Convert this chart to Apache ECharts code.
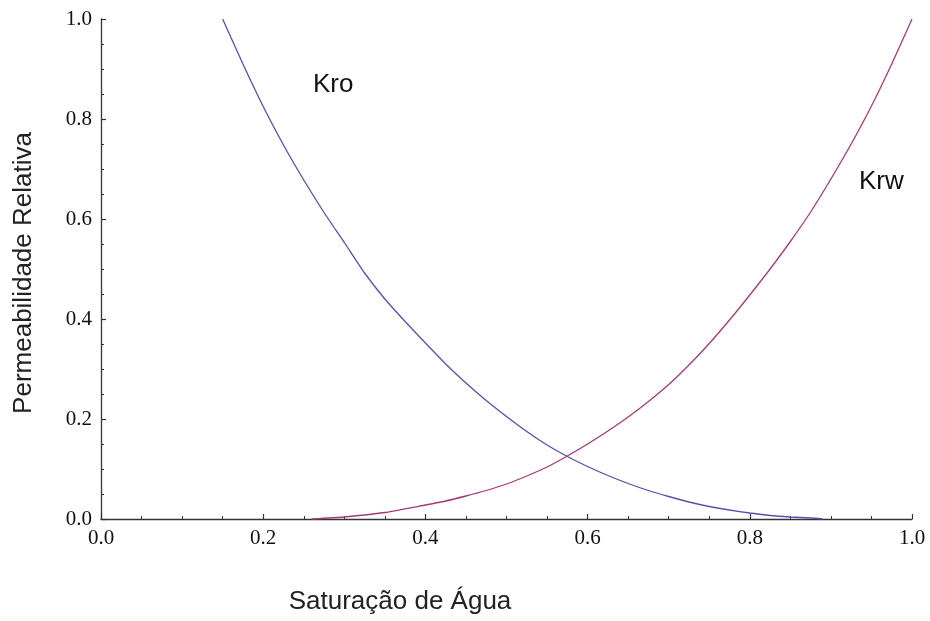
<!DOCTYPE html>
<html>
<head>
<meta charset="utf-8">
<script src="https://cdn.jsdelivr.net/npm/echarts@6/dist/echarts.min.js"></script>
<style>
  html, body { margin: 0; padding: 0; background: #fff; }
  #chart { width: 930px; height: 621px; }
</style>
</head>
<body>
<div id="chart"></div>
<script>
// Água saturation (Sw) samples and relative permeabilities
const swOil = [0.15, 0.175, 0.2, 0.225, 0.25, 0.275, 0.3, 0.325, 0.35, 0.375, 0.4, 0.425, 0.45, 0.475, 0.5,
               0.525, 0.55, 0.575, 0.6, 0.625, 0.65, 0.675, 0.7, 0.725, 0.75, 0.775, 0.8, 0.825, 0.85, 0.875, 0.89];
const kro   = [1.0, 0.91, 0.825, 0.748, 0.678, 0.613, 0.553, 0.492, 0.44, 0.395, 0.352, 0.31, 0.272, 0.237, 0.205,
               0.175, 0.148, 0.125, 0.105, 0.087, 0.071, 0.057, 0.045, 0.034, 0.025, 0.018, 0.012, 0.007, 0.004, 0.002, 0.0];

const swWater = [0.26, 0.3, 0.35, 0.4, 0.425, 0.45, 0.475, 0.5, 0.525, 0.55, 0.575, 0.6, 0.625, 0.65, 0.675, 0.7,
                 0.725, 0.75, 0.775, 0.8, 0.825, 0.85, 0.875, 0.9, 0.925, 0.95, 0.975, 1.0];
const krw     = [0.0, 0.004, 0.013, 0.028, 0.036, 0.046, 0.057, 0.07, 0.086, 0.104, 0.126, 0.15, 0.176, 0.204, 0.235, 0.269,
                 0.308, 0.351, 0.398, 0.448, 0.5, 0.555, 0.614, 0.68, 0.75, 0.826, 0.91, 1.0];

const axisTicks = [0, 0.2, 0.4, 0.6, 0.8, 1.0];

const pairs = (xs, ys) => xs.map((x, i) => [x, ys[i]]);

const serif = '"Liberation Serif", "DejaVu Serif", serif';
const sans = '"Liberation Sans", Arial, sans-serif';

function valueAxis() {
  return {
    type: 'value',
    min: axisTicks[0],
    max: axisTicks[axisTicks.length - 1],
    interval: 0.2,
    axisLine: { show: true, onZero: false, lineStyle: { color: '#333', width: 1.3 } },
    axisTick: { show: true, inside: true, length: 5, lineStyle: { color: '#333', width: 1.2 } },
    minorTick: { show: true, splitNumber: 4, length: 3, lineStyle: { color: '#333', width: 1 } },
    splitLine: { show: false },
    axisLabel: {
      color: '#111',
      fontFamily: serif,
      fontSize: 21,
      margin: 9,
      formatter: v => v.toFixed(1)
    }
  };
}

const chart = echarts.init(document.getElementById('chart'), null, { renderer: 'canvas' });
chart.setOption({
  backgroundColor: '#fff',
  animation: false,
  grid: { left: 101, right: 18, top: 19, bottom: 102, containLabel: false },
  xAxis: valueAxis(),
  yAxis: valueAxis(),
  series: [
    {
      name: 'Kro',
      type: 'line',
      data: pairs(swOil, kro),
      showSymbol: false,
      smooth: 0.2,
      lineStyle: { color: '#5252ae', width: 1.3 },
      clip: false
    },
    {
      name: 'Krw',
      type: 'line',
      data: pairs(swWater, krw),
      showSymbol: false,
      smooth: 0.2,
      lineStyle: { color: '#a23a7a', width: 1.3 },
      clip: false
    }
  ],
  graphic: [
    { type: 'text', left: 313, top: 72, style: { text: 'Kro', font: '26px ' + sans, fill: '#111' } },
    { type: 'text', left: 859, top: 169, style: { text: 'Krw', font: '26px ' + sans, fill: '#111' } },
    { type: 'text', x: 400, y: 602, style: { text: 'Saturação de Água', font: '26px ' + sans, fill: '#222', align: 'center', verticalAlign: 'middle' } },
    { type: 'text', x: 24, y: 273, rotation: Math.PI / 2, style: { text: 'Permeabilidade Relativa', font: '26px ' + sans, fill: '#222', align: 'center', verticalAlign: 'middle' } }
  ]
});
</script>
</body>
</html>
